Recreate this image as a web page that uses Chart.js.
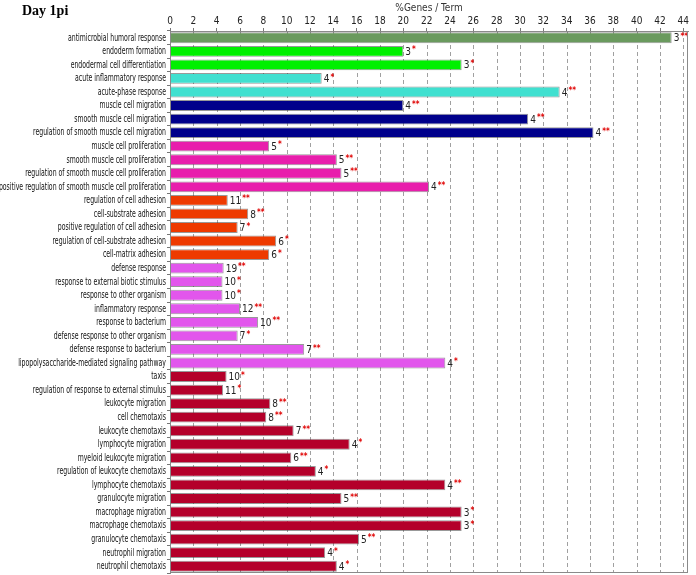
<!DOCTYPE html>
<html>
<head>
<meta charset="utf-8">
<script src="https://cdn.jsdelivr.net/npm/chart.js@4/dist/chart.umd.min.js"></script>
<style>
  html, body { margin: 0; padding: 0; background: #fff; }
  #wrap { width: 696px; height: 575px; position: relative; }
</style>
</head>
<body>
<div id="wrap"><canvas id="goChart"></canvas></div>
<script>
const categories = [
    'antimicrobial humoral response',
    'endoderm formation',
    'endodermal cell differentiation',
    'acute inflammatory response',
    'acute-phase response',
    'muscle cell migration',
    'smooth muscle cell migration',
    'regulation of smooth muscle cell migration',
    'muscle cell proliferation',
    'smooth muscle cell proliferation',
    'regulation of smooth muscle cell proliferation',
    'positive regulation of smooth muscle cell proliferation',
    'regulation of cell adhesion',
    'cell-substrate adhesion',
    'positive regulation of cell adhesion',
    'regulation of cell-substrate adhesion',
    'cell-matrix adhesion',
    'defense response',
    'response to external biotic stimulus',
    'response to other organism',
    'inflammatory response',
    'response to bacterium',
    'defense response to other organism',
    'defense response to bacterium',
    'lipopolysaccharide-mediated signaling pathway',
    'taxis',
    'regulation of response to external stimulus',
    'leukocyte migration',
    'cell chemotaxis',
    'leukocyte chemotaxis',
    'lymphocyte migration',
    'myeloid leukocyte migration',
    'regulation of leukocyte chemotaxis',
    'lymphocyte chemotaxis',
    'granulocyte migration',
    'macrophage migration',
    'macrophage chemotaxis',
    'granulocyte chemotaxis',
    'neutrophil migration',
    'neutrophil chemotaxis'
];

// % genes / term
const percentGenes = [43, 20, 25, 13, 33.4, 20, 30.7, 36.3, 8.5, 14.3, 14.7, 22.2,
    4.95, 6.7, 5.8, 9.1, 8.5, 4.6, 4.5, 4.5, 6.0, 7.55, 5.8, 11.5, 23.6,
    4.85, 4.55, 8.6, 8.25, 10.6, 15.4, 10.4, 12.5, 23.6, 14.7, 25.0, 25.0, 16.2, 13.3, 14.3];

// number of genes per term
const geneCounts = [3, 3, 3, 4, 4, 4, 4, 4, 5, 5, 5, 4, 11, 8, 7, 6, 6, 19, 10, 10, 12, 10, 7, 7, 4,
    10, 11, 8, 8, 7, 4, 6, 4, 4, 5, 3, 3, 5, 4, 4];

const significance = ['**', '*', '*', '*', '**', '**', '**', '**', '*', '**', '**', '**',
    '**', '**', '*', '*', '*', '**', '*', '*', '**', '**', '*', '**', '*',
    '*', '*', '**', '**', '**', '*', '**', '*', '**', '**', '*', '*', '**', '*', '*'];

// functional group of each term
const termGroup = [0, 1, 1, 2, 2, 3, 3, 3, 4, 4, 4, 4, 5, 5, 5, 5, 5, 6, 6, 6, 6, 6, 6, 6, 6,
    7, 7, 7, 7, 7, 7, 7, 7, 7, 7, 7, 7, 7, 7, 7];

const axisTicks = [0, 2, 4, 6, 8, 10, 12, 14, 16, 18, 20, 22, 24, 26, 28, 30, 32, 34, 36, 38, 40, 42, 44];

const groupColors = ['#6a9a5e', '#00f000', '#40e0d0', '#00008b', '#e81eac', '#ee3a00', '#e256ec', '#b4002a'];
const narrow = "'Liberation Sans Narrow', 'DejaVu Sans Condensed', Arial, sans-serif";

const annotations = {
    id: 'annotations',
    beforeDraw(chart) {
        const { ctx } = chart;
        ctx.save();
        ctx.fillStyle = '#000';
        ctx.font = "bold 14px 'Liberation Serif', 'Times New Roman', serif";
        ctx.textBaseline = 'alphabetic';
        ctx.fillText('Day 1pi', 22, 15);
        ctx.restore();
    },
    beforeDatasetsDraw(chart) {
        const { ctx, chartArea, scales } = chart;
        ctx.save();
        // dashed vertical grid lines
        ctx.strokeStyle = '#a0a0a0';
        ctx.lineWidth = 1;
        ctx.setLineDash([4, 3]);
        axisTicks.forEach(v => {
            const x = Math.round(scales.x.getPixelForValue(v)) + 0.5;
            ctx.beginPath();
            ctx.moveTo(x, chartArea.top);
            ctx.lineTo(x, chartArea.bottom);
            ctx.stroke();
        });
        ctx.setLineDash([]);
        // condensed category labels
        ctx.font = '11px ' + narrow;
        const k = 133 / ctx.measureText('regulation of smooth muscle cell migration').width;
        ctx.fillStyle = '#111';
        ctx.textAlign = 'right';
        ctx.textBaseline = 'middle';
        categories.forEach((label, i) => {
            const y = scales.y.getPixelForTick(i);
            ctx.save();
            ctx.translate(chartArea.left - 4, y);
            ctx.scale(k, 1);
            ctx.fillText(label, 0, 0);
            ctx.restore();
        });
        ctx.restore();
    },
    afterDatasetsDraw(chart) {
        const { ctx, chartArea } = chart;
        const meta = chart.getDatasetMeta(0);
        ctx.save();
        ctx.textBaseline = 'middle';
        meta.data.forEach((bar, i) => {
            const x = bar.x + 2;
            ctx.font = '10px ' + narrow;
            ctx.fillStyle = '#222';
            const txt = String(geneCounts[i]);
            ctx.fillText(txt, x, bar.y + 1);
            const w = ctx.measureText(txt).width;
            ctx.font = 'bold 8px ' + narrow;
            ctx.fillStyle = '#e00000';
            ctx.fillText(significance[i], x + w + 1, bar.y - 1);
        });
        ctx.strokeStyle = '#8a8a8a';
        ctx.lineWidth = 1;
        ctx.strokeRect(chartArea.left + 0.5, chartArea.top + 0.5,
            chartArea.right - chartArea.left - 1, chartArea.bottom - chartArea.top - 1);
        ctx.restore();
    }
};

new Chart(document.getElementById('goChart').getContext('2d'), {
    type: 'bar',
    data: {
        labels: categories,
        datasets: [{
            label: '%Genes / Term',
            data: percentGenes,
            backgroundColor: termGroup.map(g => groupColors[g]),
            borderColor: 'rgba(70, 70, 70, 0.55)',
            borderWidth: 1,
            barPercentage: 0.8,
            categoryPercentage: 1.0
        }]
    },
    options: {
        indexAxis: 'y',
        responsive: true,
        maintainAspectRatio: false,
        animation: false,
        layout: { padding: { top: 0, right: 8, bottom: 2, left: 0 } },
        plugins: {
            legend: { display: false },
            tooltip: { enabled: false }
        },
        scales: {
            x: {
                position: 'top',
                min: 0,
                max: 44.4,
                afterBuildTicks: (scale) => {
                    scale.ticks = axisTicks.map(v => ({ value: v }));
                },
                afterFit: (scale) => { scale.height = 31; },
                ticks: {
                    autoSkip: false,
                    maxRotation: 0,
                    padding: 1,
                    color: '#222',
                    font: { family: narrow, size: 10 }
                },
                grid: {
                    drawOnChartArea: false,
                    drawTicks: true,
                    tickLength: 3,
                    tickColor: '#777'
                },
                border: { display: true, color: '#8a8a8a' },
                title: {
                    display: true,
                    text: '%Genes / Term',
                    color: '#333',
                    padding: { top: 2, bottom: 0 },
                    font: { family: narrow, size: 10 }
                }
            },
            y: {
                afterFit: (scale) => { scale.width = 170; },
                ticks: {
                    display: false,
                    autoSkip: false
                },
                grid: {
                    drawOnChartArea: false,
                    drawTicks: true,
                    tickLength: 3,
                    tickColor: '#777'
                },
                border: { display: true, color: '#8a8a8a' }
            }
        }
    },
    plugins: [annotations]
});
</script>
</body>
</html>
